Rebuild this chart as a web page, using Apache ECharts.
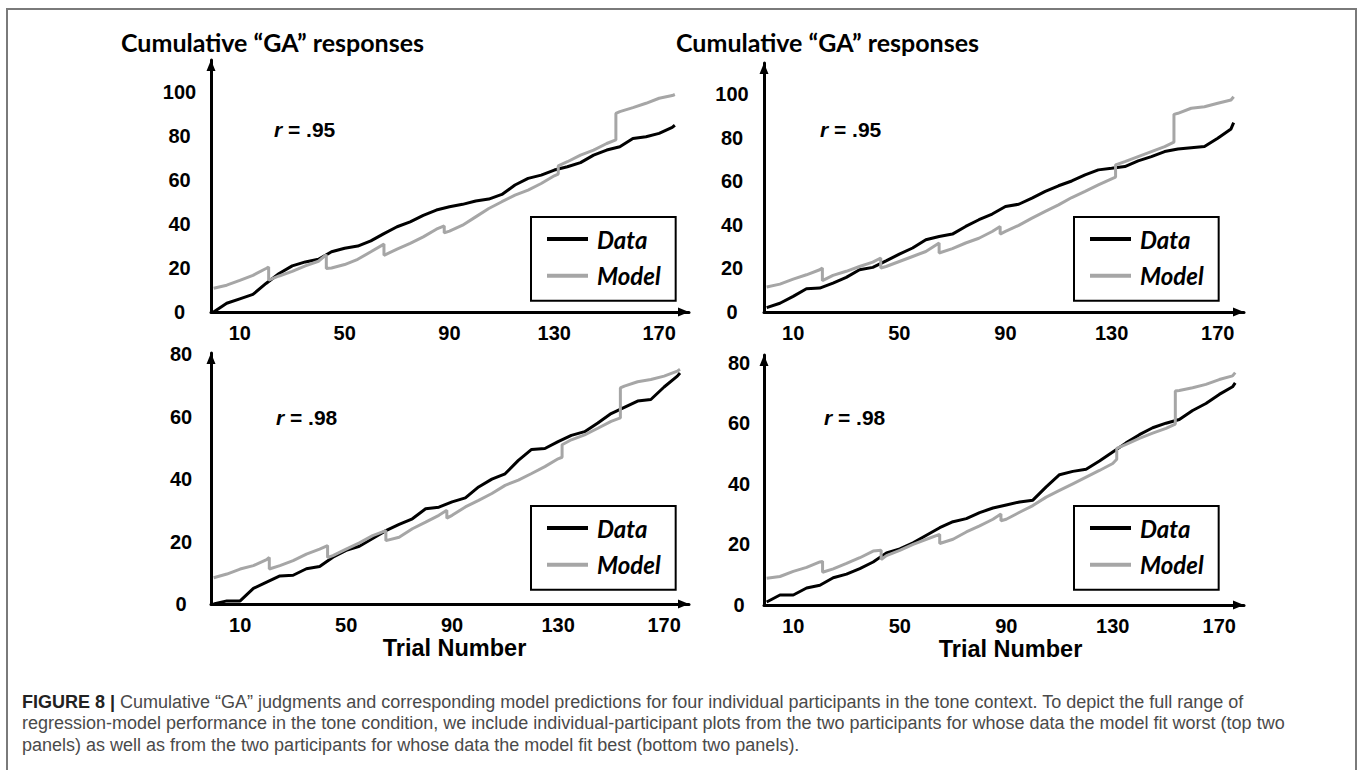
<!DOCTYPE html>
<html>
<head>
<meta charset="utf-8">
<script src="https://cdn.jsdelivr.net/npm/echarts@6/dist/echarts.min.js"></script>
<style>
  html, body { margin: 0; padding: 0; background: #ffffff; }
  #chart { width: 1360px; height: 770px; }
</style>
</head>
<body>
<div id="chart"></div>
<script>
// ---- tick labels and names ----
const xTickLabels = [10, 50, 90, 130, 170];
const yTicksTop = [0, 20, 40, 60, 80, 100];
const yTicksBottom = [0, 20, 40, 60, 80];
const seriesNames = ['Data', 'Model'];
const yAxisTitle = 'Cumulative \u201cGA\u201d responses';
const xAxisTitle = 'Trial Number';
const correlations = ['.95', '.95', '.98', '.98'];

// ---- trial positions at which the curves are sampled ----
const dataTrials = [0, 5, 10, 15, 20, 25, 30, 35, 40, 45, 50, 55, 60, 65, 70, 75, 80, 85, 90,
  95, 100, 105, 110, 115, 120, 125, 130, 135, 140, 145, 150, 155, 160, 165, 170, 175, 176];
// model predictions change abruptly at a few trials, hence the repeated positions
const modelTrials = [0, 5, 10, 15, 20, 21, 21, 25, 30, 35, 40, 43, 43, 45, 50, 55, 60, 65, 65,
  70, 75, 80, 85, 88, 88, 90, 95, 100, 105, 110, 115, 120, 125, 130, 131.5, 131.5,
  135, 140, 145, 150, 153.5, 153.5, 155, 160, 165, 170, 175, 176];

// ---- cumulative "GA" responses: observed data and model, per participant ----
const p1Data = [0, 4, 6, 8, 13, 17.5, 21, 22.8, 24, 27.4, 29, 30, 32.4, 35.7, 38.8, 41, 44, 46.4,
  47.9, 49, 50.5, 51.4, 53.5, 57.8, 60.8, 62.3, 64.6, 66.1, 68, 71.4, 73.7, 75.2, 79, 79.8, 81.3, 84, 85];
const p1Model = [10.8, 12.2, 14.4, 16.7, 19.8, 20.5, 14.5, 16.4, 18.5, 21, 23.1, 26.1, 19.8,
  20, 21.6, 24, 27.4, 30.9, 25.8, 28.6, 31.2, 34.2, 37.7, 39.2, 36, 36.8, 39.5, 43.3, 47.1,
  50.2, 53.2, 55.5, 58.5, 62, 62.8, 66.5, 68.4, 71.4, 73.7, 76.7, 78.3, 90.4, 91.2, 93, 95,
  97.3, 98.5, 99];

const p2Data = [2, 4, 7.2, 10.7, 11, 13.3, 15.9, 19.4, 20.5, 23.5, 26.6, 29.4, 33.2, 34.7, 35.8,
  39.3, 42.4, 45, 48.5, 49.5, 52.3, 55.4, 58, 60.2, 63, 65.3, 66, 66.8, 69.4, 71.4, 73.7, 74.9,
  75.5, 76, 79.8, 84.1, 87];
const p2Model = [11.5, 12.8, 15.1, 17.1, 19.4, 20.2, 14.4, 16.8, 18.7, 20.9, 22.9, 24.8, 20.2,
  20.9, 23.2, 25.5, 27.8, 31.7, 27.1, 29.1, 31.7, 33.9, 37, 39.3, 35.8, 37, 39.8, 43.1, 46.2,
  49.2, 52.6, 55.4, 58.4, 61.2, 62, 67.6, 69.1, 71.4, 73.7, 76, 78, 90.8, 91.3, 93.6, 94.3,
  95.9, 97.4, 98.9];

const p3Data = [0, 1, 1, 5, 7, 9, 9.2, 11.3, 12, 15, 17.2, 18.5, 21, 23.5, 25.5, 27.3, 30.5, 31,
  32.7, 34, 37.5, 40, 41.7, 46, 49.5, 49.8, 52, 54, 55.2, 58, 61, 63, 65, 65.5, 69.5, 73, 74];
const p3Model = [8.4, 9.6, 11.2, 12.3, 14.2, 14.9, 11.2, 12.3, 13.9, 16, 17.6, 18.7, 14.9,
  15.5, 17.6, 19.6, 21.9, 23.5, 20.3, 21.4, 24.1, 26.2, 28.4, 30, 27.5, 28.4, 31.1, 33.2, 35.4,
  38, 39.7, 41.8, 44, 46.5, 47, 51, 52.6, 54.2, 56.3, 58.5, 59.6, 69.2, 69.8, 71.2, 71.9,
  73, 74.6, 75.2];

const p4Data = [1, 3.3, 3.3, 5.6, 6.5, 9, 10.2, 12, 14.2, 17.2, 18.5, 20.5, 23, 25.5, 27.5, 28.5,
  30.5, 32, 33, 34, 34.6, 39, 43, 44.1, 44.8, 47.5, 50.5, 53.5, 56.2, 58.5, 60, 61.2, 64.2,
  66.5, 69.5, 72, 73.3];
const p4Model = [8.8, 9.4, 11.1, 12.4, 14.2, 14.4, 10.8, 11.9, 13.7, 15.6, 17.8, 18.1, 15,
  16.3, 18, 20, 21.7, 23.3, 20.3, 21.7, 24.1, 26.1, 28.3, 30, 27.8, 28.3, 30.6, 32.8, 35.6,
  37.8, 40, 42.2, 44.4, 46.7, 48.1, 51.7, 53, 55, 56.7, 58.3, 59.7, 70.6, 70.8, 71.7, 72.8,
  74.4, 75.6, 76.7];

const captionLines = [
  'Cumulative \u201cGA\u201d judgments and corresponding model predictions for four individual participants in the tone context. To depict the full range of',
  'regression-model performance in the tone condition, we include individual-participant plots from the two participants for whose data the model fit worst (top two',
  'panels) as well as from the two participants for whose data the model fit best (bottom two panels).'
];
const captionLabel = 'FIGURE 8 |';

// ---- layout of the four panels (pixels) ----
const panels = [
  { data: p1Data, model: p1Model, yTicks: yTicksTop, left: 211, top: 60, width: 478, height: 252,
    xMax: 181.4, yMax: 114.7, yLabelMargin: 31.5, legend: [531, 217], rText: [274, 129], name: false },
  { data: p2Data, model: p2Model, yTicks: yTicksTop, left: 764, top: 63, width: 480, height: 249,
    xMax: 179.9, yMax: 114.4, yLabelMargin: 32, legend: [1074, 217], rText: [820, 129], name: false },
  { data: p3Data, model: p3Model, yTicks: yTicksBottom, left: 211, top: 353, width: 478, height: 251,
    xMax: 179.4, yMax: 80.4, yLabelMargin: 30, legend: [531, 506], rText: [276, 417], name: true, namePad: 9 },
  { data: p4Data, model: p4Model, yTicks: yTicksBottom, left: 764, top: 355, width: 480, height: 250,
    xMax: 179.3, yMax: 82.5, yLabelMargin: 25, legend: [1074, 506], rText: [824, 417], name: true, namePad: 13 }
];

const tickFont = 'Liberation Sans, Arial, sans-serif';
const headFont = 'Lato, Liberation Sans, sans-serif';
const dataColor = '#000000';
const modelColor = '#a6a6a6';

const axisLineStyle = {
  show: true,
  onZero: false,
  symbol: ['none', 'triangle'],
  symbolSize: [9, 11],
  symbolOffset: [0, -5.5],
  lineStyle: { color: '#000', width: 3 }
};

const option = {
  animation: false,
  backgroundColor: '#ffffff',
  grid: panels.map(p => ({
    left: p.left, top: p.top, width: p.width, height: p.height,
    containLabel: false, outerBoundsMode: 'none'
  })),
  xAxis: panels.map((p, i) => ({
    type: 'value', gridIndex: i, min: -1, max: p.xMax,
    axisLine: axisLineStyle,
    axisTick: { show: false },
    splitLine: { show: false },
    axisLabel: {
      customValues: xTickLabels, margin: 11,
      fontFamily: tickFont, fontWeight: 'bold', fontSize: 20, color: '#000'
    },
    name: p.name ? xAxisTitle : '',
    nameLocation: 'middle', nameGap: 31,
    nameTextStyle: {
      fontFamily: tickFont, fontWeight: 'bold', fontSize: 23.5, color: '#000',
      padding: [0, 0, 0, p.namePad || 0]
    }
  })),
  yAxis: panels.map((p, i) => ({
    type: 'value', gridIndex: i, min: 0, max: p.yMax,
    axisLine: axisLineStyle,
    axisTick: { show: false },
    splitLine: { show: false },
    axisLabel: {
      customValues: p.yTicks, margin: p.yLabelMargin, align: 'center',
      fontFamily: tickFont, fontWeight: 'bold', fontSize: 20, color: '#000'
    }
  })),
  legend: panels.map(p => ({
    data: seriesNames,
    orient: 'vertical',
    left: p.legend[0], top: p.legend[1],
    selectedMode: false,
    backgroundColor: '#ffffff',
    borderColor: '#000', borderWidth: 2,
    padding: [10, 15, 13, 16],
    icon: 'rect',
    itemWidth: 41, itemHeight: 4, itemGap: 12.7,
    textStyle: {
      fontFamily: headFont, fontWeight: 'bold', fontStyle: 'italic', fontSize: 24,
      color: '#000', lineHeight: 24, padding: [0, 0, 0, 4]
    }
  })),
  series: panels.flatMap((p, i) => [
    {
      name: seriesNames[0], type: 'line', xAxisIndex: i, yAxisIndex: i,
      data: dataTrials.map((t, k) => [t, p.data[k]]),
      symbol: 'none', lineStyle: { color: dataColor, width: 3 }, itemStyle: { color: dataColor }
    },
    {
      name: seriesNames[1], type: 'line', xAxisIndex: i, yAxisIndex: i,
      data: modelTrials.map((t, k) => [t, p.model[k]]),
      symbol: 'none', lineStyle: { color: modelColor, width: 3 }, itemStyle: { color: modelColor }
    }
  ]),
  graphic: [
    // outer frame of the figure
    { type: 'rect', shape: { x: 7, y: 9, width: 1349, height: 820 },
      style: { fill: 'none', stroke: '#7a7a7a', lineWidth: 2 }, silent: true },
    // axis titles above the two columns
    { type: 'text', style: { x: 121, y: 42, text: yAxisTitle, fill: '#000',
      font: 'bold 25px ' + headFont, verticalAlign: 'middle' } },
    { type: 'text', style: { x: 676, y: 42, text: yAxisTitle, fill: '#000',
      font: 'bold 25px ' + headFont, verticalAlign: 'middle' } },
    // correlation labels
    ...panels.map((p, i) => ({
      type: 'text',
      style: {
        x: p.rText[0], y: p.rText[1], verticalAlign: 'middle',
        text: '{i|r}{n| = ' + correlations[i] + '}',
        rich: {
          i: { fontFamily: tickFont, fontWeight: 'bold', fontStyle: 'italic', fontSize: 21, fill: '#000' },
          n: { fontFamily: tickFont, fontWeight: 'bold', fontSize: 21, fill: '#000' }
        }
      }
    })),
    // caption
    ...captionLines.map((line, k) => ({
      type: 'text',
      style: {
        x: 22, y: 702 + k * 21.3, verticalAlign: 'middle',
        text: k === 0 ? '{b|' + captionLabel + '}{r| ' + line + '}' : '{r|' + line + '}',
        rich: {
          b: { fontFamily: tickFont, fontWeight: 'bold', fontSize: 18, fill: '#222' },
          r: { fontFamily: tickFont, fontSize: 18, fill: '#4a4a4a' }
        }
      }
    }))
  ]
};

const chart = echarts.init(document.getElementById('chart'), null, { renderer: 'svg' });
chart.setOption(option);
</script>
</body>
</html>
